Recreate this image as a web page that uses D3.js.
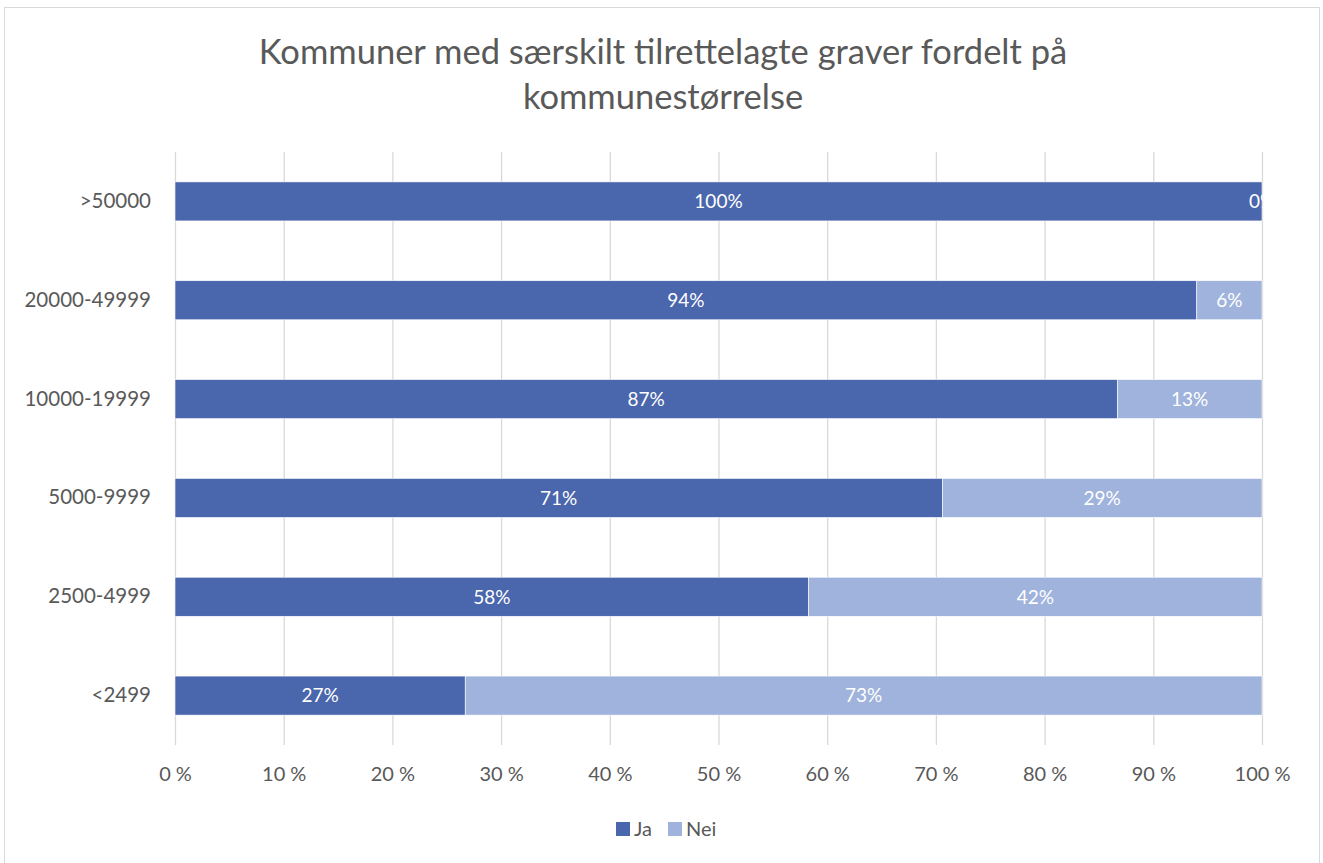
<!DOCTYPE html>
<html>
<head>
<meta charset="utf-8">
<script src="https://cdn.jsdelivr.net/npm/d3@7"></script>
<style>
    body { margin: 0; background: #fff; }
    text { font-family: Lato, "Open Sans", sans-serif; }
</style>
</head>
<body>
<svg id="chart" width="1323" height="863"></svg>
<script>
/**
 * Kommuner med særskilt tilrettelagte graver - stacked 100% bar chart
 */

let categories = [">50000", "20000-49999", "10000-19999", "5000-9999", "2500-4999", "<2499"];
let jaValues = [100, 94, 86.7, 70.6, 58.3, 26.7];
let neiValues = [0, 6, 13.3, 29.4, 41.7, 73.3];
let jaLabels = ["100%", "94%", "87%", "71%", "58%", "27%"];
let neiLabels = ["0%", "6%", "13%", "29%", "42%", "73%"];
let xTicks = [0, 10, 20, 30, 40, 50, 60, 70, 80, 90, 100];
let seriesNames = ["Ja", "Nei"];
let colors = ["#4a66ac", "#9fb3dc"];

let margin = {
    top: 152,
    left: 175,
    bottom: 118,
    right: 61
};

let width = 1323, height = 863;
let svg = d3.select("#chart");

// chart frame
svg.append("rect")
    .attr("x", 4.5)
    .attr("y", 7.5)
    .attr("width", 1315)
    .attr("height", 870)
    .attr("fill", "none")
    .attr("stroke", "#d9d9d9");

// title
let title = svg.append("text")
    .attr("text-anchor", "middle")
    .attr("fill", "#595959")
    .style("font-size", "34.5px");
title.append("tspan").attr("x", 663).attr("y", 64).text("Kommuner med særskilt tilrettelagte graver fordelt på");
title.append("tspan").attr("x", 663).attr("y", 109).text("kommunestørrelse");

let x = d3.scaleLinear()
    .domain([0, 100])
    .range([margin.left, width - margin.right]);

let y = d3.scaleBand()
    .domain(categories)
    .range([margin.top, height - margin.bottom])
    .paddingInner(0.605)
    .paddingOuter(0.3025);

// gridlines
svg.append("g")
    .selectAll("line")
    .data(xTicks)
    .enter()
    .append("line")
    .attr("x1", d => x(d) + 0.5)
    .attr("x2", d => x(d) + 0.5)
    .attr("y1", margin.top)
    .attr("y2", height - margin.bottom)
    .attr("stroke", "#d9d9d9")
    .attr("stroke-width", 1.3);

// x axis labels
let xAxis = d3.axisBottom(x)
    .tickValues(xTicks)
    .tickSize(0)
    .tickPadding(22)
    .tickFormat(d => d + " %");
svg.append("g")
    .attr("transform", `translate(0,${height - margin.bottom})`)
    .call(xAxis)
    .call(g => g.select(".domain").remove())
    .selectAll("text")
    .attr("fill", "#595959")
    .style("font-size", "20px")
    .style("font-family", "Lato, 'Open Sans', sans-serif");

// y axis labels
let yAxis = d3.axisLeft(y).tickSize(0).tickPadding(24);
svg.append("g")
    .attr("transform", `translate(${margin.left},0)`)
    .call(yAxis)
    .call(g => g.select(".domain").remove())
    .selectAll("text")
    .attr("fill", "#595959")
    .style("font-size", "20.5px")
    .style("font-family", "Lato, 'Open Sans', sans-serif");

// stacked bars
let rows = categories.map((c, i) => ({cat: c, Ja: jaValues[i], Nei: neiValues[i]}));
let stacked = d3.stack().keys(seriesNames)(rows);
let labelSets = [jaLabels, neiLabels];

svg.append("clipPath")
    .attr("id", "plotClip")
    .append("rect")
    .attr("x", margin.left - 2)
    .attr("y", margin.top)
    .attr("width", x(100) - margin.left + 3)
    .attr("height", height - margin.top - margin.bottom);

let plot = svg.append("g").attr("clip-path", "url(#plotClip)");

stacked.forEach(function(layer, s) {
    let g = plot.append("g");
    g.selectAll("rect")
        .data(layer)
        .enter()
        .append("rect")
        .attr("x", d => x(d[0]))
        .attr("y", d => y(d.data.cat))
        .attr("width", d => x(d[1]) - x(d[0]))
        .attr("height", y.bandwidth())
        .attr("fill", colors[s])
        .attr("stroke", "#fff")
        .attr("stroke-width", 0.6);

    g.selectAll("text")
        .data(layer)
        .enter()
        .append("text")
        .attr("x", d => (x(d[0]) + x(d[1])) / 2)
        .attr("y", d => y(d.data.cat) + y.bandwidth() / 2)
        .attr("dy", "0.36em")
        .attr("text-anchor", "middle")
        .attr("fill", "#fff")
        .style("font-size", "19px")
        .text((d, i) => labelSets[s][i]);
});

// legend
let legend = svg.append("g");
let legendX = [616, 668];
seriesNames.forEach(function(name, i) {
    legend.append("rect")
        .attr("x", legendX[i])
        .attr("y", 822)
        .attr("width", 14)
        .attr("height", 14)
        .attr("fill", colors[i]);
    legend.append("text")
        .attr("x", legendX[i] + 18)
        .attr("y", 836)
        .attr("fill", "#595959")
        .style("font-size", "20px")
        .text(name);
});
</script>
</body>
</html>
